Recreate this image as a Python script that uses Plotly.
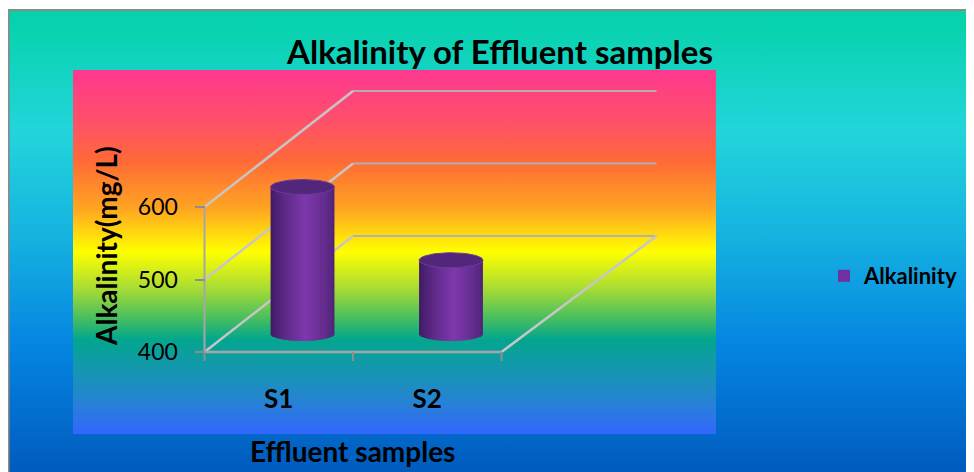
import base64
import numpy as np
import plotly.graph_objects as go

# ---------------- data ----------------
categories = ["S1", "S2"]
alkalinity = [602, 501]
y_ticks = [400, 500, 600]
series_name = "Alkalinity"
title_text = "Alkalinity of Effluent samples"
x_title = "Effluent samples"
y_title = "Alkalinity(mg/L)"

# ---------------- geometry / style constants ----------------
# the page has an 8px body margin, so the figure is 8px smaller and all
# positions below are given in page pixels and converted.
OFF = 8
W, H = 974 - OFF, 472 - OFF


def px(xp):
    return (xp - OFF) / W


def py(yp):
    return 1 - (yp - OFF) / H


PLOT_L, PLOT_R, PLOT_T, PLOT_B = 73, 716, 70, 434
PX_PER_CAT = 148.5
FRONT_LEFT_PX = 204.5
PX_PER_VAL = 0.725
FLOOR_PX = 352
Y_BASE = y_ticks[0]

x_lo = -0.5 - (FRONT_LEFT_PX - PLOT_L) / PX_PER_CAT
x_hi = -0.5 + (PLOT_R - FRONT_LEFT_PX) / PX_PER_CAT
y_lo = Y_BASE - (PLOT_B - FLOOR_PX) / PX_PER_VAL
y_hi = Y_BASE + (FLOOR_PX - PLOT_T) / PX_PER_VAL

DX = 148.5 / PX_PER_CAT        # depth offset at the left (x units)
DX_R = 155 / PX_PER_CAT        # depth offset at the right (x units)
DY = 116 / PX_PER_VAL          # depth offset (value units)
DEPTH_F = 0.16                 # bars sit at this fraction of the depth
RX = 0.215                     # cylinder half width (x units)
RY = 7.5 / PX_PER_VAL          # ellipse half height (value units)
NSTRIP = 24

FONT = "Lato"


def svg_gradient(stops):
    st = "".join(f'<stop offset="{o}" stop-color="{c}"/>' for o, c in stops)
    svg = ('<svg xmlns="http://www.w3.org/2000/svg" width="100" height="100" '
           'viewBox="0 0 100 100" preserveAspectRatio="none">'
           '<defs><linearGradient id="g" x1="0" y1="0" x2="0" y2="1">'
           + st + '</linearGradient></defs>'
           '<rect x="0" y="0" width="100" height="100" fill="url(#g)"/></svg>')
    return "data:image/svg+xml;base64," + base64.b64encode(svg.encode()).decode()


outer_stops = [(0, "#04D2A8"), (0.26, "#22D5DA"), (0.48, "#16B4E0"),
               (0.72, "#0586E2"), (1, "#005BBE")]
inner_stops = [(0, "#FF378F"), (0.15, "#FF5266"), (0.25, "#FF6A36"),
               (0.38, "#FFA422"), (0.50, "#FFFF00"), (0.60, "#A8DC34"),
               (0.69, "#3EBB64"), (0.74, "#03A68E"), (0.84, "#1894B6"),
               (0.92, "#2880D8"), (1, "#3366FF")]

fig = go.Figure()

# ---------------- cylinders ----------------
dark = np.array([0x3A, 0x1A, 0x5E])
light = np.array([0x7E, 0x38, 0xAC])


def shade(u):
    if u < 0.1:
        s = (u + 1) / 1.1
        t = s ** 0.8
    else:
        s = (1 - u) / 0.9
        t = 0.22 + 0.78 * s ** 0.6
    c = dark + (light - dark) * t
    return "rgb({},{},{})".format(*[int(round(v)) for v in c])


bx, bbase, bh, bw, bc = [], [], [], [], []
for i, v in enumerate(alkalinity):
    cx = i + DEPTH_F * DX
    base_c = Y_BASE + DEPTH_F * DY
    top_c = v + DEPTH_F * DY
    for k in range(NSTRIP):
        u = -1 + (2 * k + 1) / NSTRIP
        b = base_c - RY * np.sqrt(max(0.0, 1 - u * u))
        bx.append(cx + u * RX)
        bbase.append(b)
        bh.append(top_c - b)
        bw.append(2 * RX / NSTRIP * (1.0 if k in (0, NSTRIP - 1) else 1.7))
        bc.append(shade(u))

fig.add_trace(go.Bar(x=bx, y=bh, base=bbase, width=bw,
                     marker=dict(color=bc, line=dict(width=0)),
                     showlegend=False, hoverinfo="skip"))

t = np.linspace(0, 2 * np.pi, 100)
for i, v in enumerate(alkalinity):
    cx = i + DEPTH_F * DX
    top_c = v + DEPTH_F * DY
    fig.add_trace(go.Scatter(x=cx + RX * np.cos(t), y=top_c + RY * np.sin(t),
                             mode="lines", fill="toself", fillcolor="#52267B",
                             line=dict(color="#6A3C96", width=1),
                             showlegend=False, hoverinfo="skip"))

# legend entry
fig.add_trace(go.Scatter(x=[None], y=[None], mode="markers",
                         name=f"<b>{series_name}</b>",
                         marker=dict(symbol="square", size=15, color="#7030A0")))

# ---------------- 3D frame (shapes) ----------------
shapes = []
grid_col = "#B0B0B0"
diag_col = "#C6C6C6"
x0, x1 = -0.5, len(categories) - 0.5
for v in y_ticks:
    shapes.append(dict(type="line", xref="x", yref="y", x0=x0 + DX, x1=x1 + DX_R,
                       y0=v + DY, y1=v + DY, line=dict(color=grid_col, width=2),
                       layer="below"))
    shapes.append(dict(type="line", xref="x", yref="y", x0=x0, x1=x0 + DX,
                       y0=v, y1=v + DY, line=dict(color=diag_col, width=2.5),
                       layer="below"))
shapes.append(dict(type="line", xref="x", yref="y", x0=x1, x1=x1 + DX_R,
                   y0=Y_BASE, y1=Y_BASE + DY, line=dict(color=diag_col, width=2.5),
                   layer="below"))
shapes.append(dict(type="line", xref="x", yref="y", x0=x0, x1=x1,
                   y0=Y_BASE, y1=Y_BASE, line=dict(color="#A6A6A6", width=2.5),
                   layer="below"))
shapes.append(dict(type="line", xref="x", yref="y", x0=x0, x1=x0,
                   y0=y_ticks[0], y1=y_ticks[-1], line=dict(color="#A6A6A6", width=2),
                   layer="below"))
for k in range(len(categories) + 1):
    xv = x0 + k
    shapes.append(dict(type="line", xref="x", yref="y", x0=xv, x1=xv,
                       y0=Y_BASE, y1=Y_BASE - 9 / PX_PER_VAL,
                       line=dict(color="#8E8E8E", width=2), layer="below"))

# outer border lines
shapes.append(dict(type="line", xref="paper", yref="paper", x0=0, x1=1,
                   y0=py(10), y1=py(10), line=dict(color="#8A8A8A", width=2)))
shapes.append(dict(type="line", xref="paper", yref="paper", x0=0.6 / W, x1=0.6 / W,
                   y0=0, y1=py(10), line=dict(color="#8A8A8A", width=2)))

images = [
    dict(source=svg_gradient(outer_stops), xref="paper", yref="paper",
         x=0, y=py(10), sizex=1, sizey=py(10),
         xanchor="left", yanchor="top", sizing="stretch", layer="below"),
    dict(source=svg_gradient(inner_stops), xref="paper", yref="paper",
         x=px(PLOT_L), y=py(PLOT_T), sizex=(PLOT_R - PLOT_L) / W,
         sizey=(PLOT_B - PLOT_T) / H,
         xanchor="left", yanchor="top", sizing="stretch", layer="below"),
]

annotations = [
    dict(text=f"<b>{y_title}</b>", xref="paper", yref="paper", x=px(106),
         y=py(246), xanchor="center", yanchor="middle", textangle=-90,
         showarrow=False, font=dict(family=FONT, size=28, color="black")),
    dict(text=f"<b>{x_title}</b>", xref="paper", yref="paper", x=px(352),
         y=py(451), xanchor="center", yanchor="middle", showarrow=False,
         font=dict(family=FONT, size=28, color="black")),
]

fig.update_layout(
    width=W, height=H,
    margin=dict(l=0, r=0, t=0, b=0),
    paper_bgcolor="white",
    plot_bgcolor="rgba(0,0,0,0)",
    barmode="overlay",
    title=dict(text=f"<b>{title_text}</b>", x=px(500), xanchor="center",
               y=py(52), yanchor="middle", xref="paper", yref="paper",
               font=dict(family=FONT, size=33, color="black")),
    xaxis=dict(domain=[px(PLOT_L), px(PLOT_R)], range=[x_lo, x_hi],
               anchor="free", position=py(FLOOR_PX),
               tickvals=list(range(len(categories))),
               ticktext=[f"<b>{c}</b>" for c in categories],
               ticks="", showline=False, showgrid=False, zeroline=False,
               ticklabelstandoff=29,
               tickfont=dict(family=FONT, size=26, color="black")),
    yaxis=dict(domain=[py(PLOT_B), py(PLOT_T)], range=[y_lo, y_hi],
               anchor="free", position=px(FRONT_LEFT_PX),
               tickvals=y_ticks, ticks="outside", ticklen=10, tickwidth=2,
               tickcolor="#8E8E8E", showline=False, showgrid=False, zeroline=False,
               ticklabelstandoff=12,
               tickfont=dict(family=FONT, size=23, color="black")),
    legend=dict(x=px(824), y=py(276), xanchor="left", yanchor="middle",
                bgcolor="rgba(0,0,0,0)", font=dict(family=FONT, size=22, color="black"),
                itemsizing="constant"),
    shapes=shapes,
    images=images,
    annotations=annotations,
    showlegend=True,
)

fig.write_html("out.html")
